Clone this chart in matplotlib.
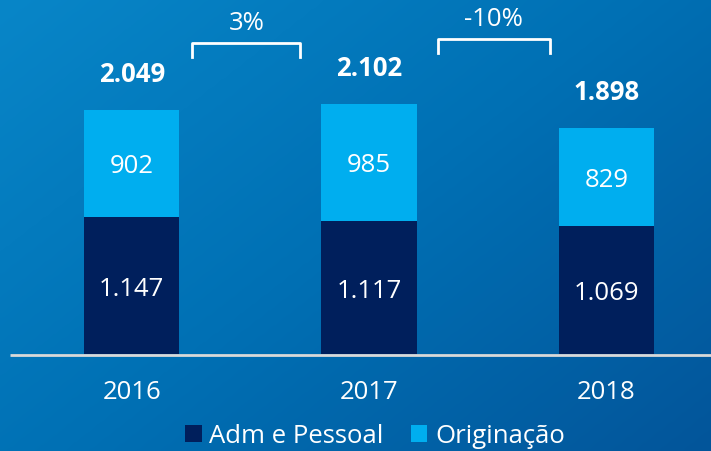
import numpy as np
import matplotlib
matplotlib.use("Agg")
import matplotlib.pyplot as plt
from matplotlib.patches import Patch
from matplotlib.colors import LinearSegmentedColormap

plt.rcParams['font.family'] = ['Open Sans', 'DejaVu Sans']

# ---- data ----
years = ["2016", "2017", "2018"]
adm_pessoal = [1147, 1117, 1069]
originacao = [902, 985, 829]
totals_lbl = ["2.049", "2.102", "1.898"]
adm_lbl = ["1.147", "1.117", "1.069"]
orig_lbl = ["902", "985", "829"]
growth_lbl = ["3%", "-10%"]
series_names = ["Adm e Pessoal", "Originação"]

# ---- style ----
C_DARK = "#001F5C"
C_LIGHT = "#00AEEF"
W, H = 711, 452
DPI = 100

fig = plt.figure(figsize=(W / DPI, H / DPI), dpi=DPI)

# background gradient
bg = fig.add_axes([0, 0, 1, 1], zorder=0)
yy, xx = np.mgrid[0:1:200j, 0:1:300j]
t = 0.55 * xx + 0.45 * yy
cmap = LinearSegmentedColormap.from_list("bg", ["#0886C8", "#0070B4", "#03559A"])
bg.imshow(t, cmap=cmap, aspect="auto", extent=[0, 1, 0, 1], origin="upper", interpolation="bicubic")
bg.axis("off")

ax = fig.add_axes([0, 0, 1, 1], zorder=1)
ax.patch.set_alpha(0)
x = np.arange(len(years))
px_per_unit_x = 237.0
ax.set_xlim(-131.5 / px_per_unit_x, 2 + (W - 606.5) / px_per_unit_x)
upp = 2049 / 243.5  # data units per pixel
base_px = 354.5
ax.set_ylim(-(H - base_px) * upp, base_px * upp)
ax.axis("off")

bw = 95 / px_per_unit_x
adm = np.array(adm_pessoal)
ori = np.array(originacao)
ax.bar(x, adm, width=bw, color=C_DARK, zorder=2)
ax.bar(x, ori, width=bw, bottom=adm, color=C_LIGHT, zorder=2)

# baseline
ax.plot([(10 - 131.5) / px_per_unit_x, ax.get_xlim()[1]], [-1.2 * upp, -1.2 * upp], color="#D9D9D9", lw=2,
        zorder=3, solid_capstyle="butt")

fs = 18.5
for i in range(len(years)):
    ax.text(x[i], adm[i] / 2 - 3 * upp, adm_lbl[i], ha="center", va="center", color="white", fontsize=fs, zorder=4)
    ax.text(x[i], adm[i] + ori[i] / 2 - 2 * upp, orig_lbl[i], ha="center", va="center", color="white", fontsize=fs, zorder=4)
    ax.text(x[i], adm[i] + ori[i] + 36 * upp, totals_lbl[i], ha="center", va="center", color="white",
            fontsize=fs, fontweight="bold", zorder=4)
    ax.text(x[i], -38 * upp, years[i], ha="center", va="center", color="white", fontsize=fs, zorder=4)

# growth brackets
br_top_px = [44, 40]
for j, g in enumerate(growth_lbl):
    x0 = x[j] + (192 - 131.5) / px_per_unit_x + (j * 8) / px_per_unit_x
    x1 = x0 + (108 + 4 * j) / px_per_unit_x
    top = (base_px - br_top_px[j]) * upp
    bot = top - 14 * upp
    ax.plot([x0, x0, x1, x1], [bot, top, top, bot], color="white", lw=2, zorder=4)
    ax.text((x0 + x1) / 2, top + 21 * upp, g, ha="center", va="center", color="white", fontsize=fs, zorder=4)

handles = [Patch(facecolor=C_DARK, edgecolor="none"), Patch(facecolor=C_LIGHT, edgecolor="none")]
leg = fig.legend(handles, series_names, loc="center", bbox_to_anchor=(375 / W, 1 - 437 / H), ncol=2,
                 frameon=False, fontsize=18.5, handlelength=0.65, handleheight=0.65, handletextpad=0.3,
                 columnspacing=1.05, labelcolor="white")

fig.savefig("out.png", dpi=DPI)
